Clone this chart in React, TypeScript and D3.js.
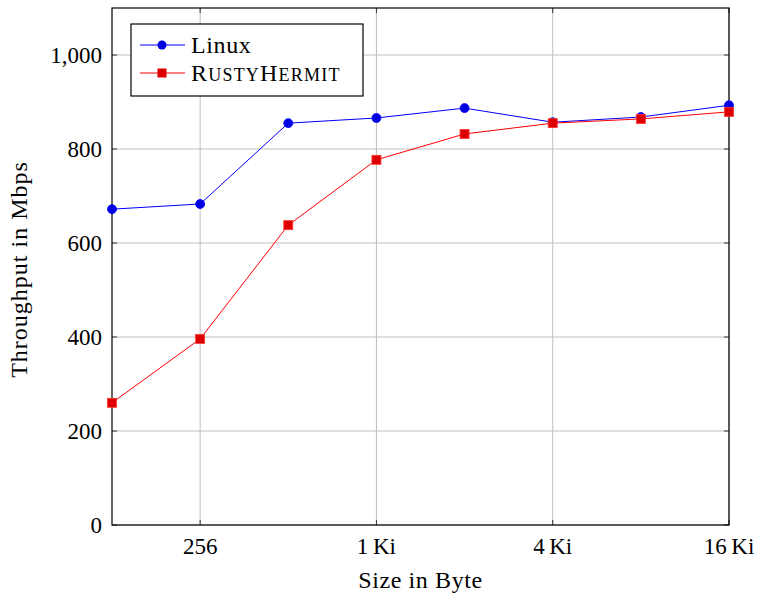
import React, { useEffect, useRef } from 'react';
import * as d3 from 'd3';

const sizes = [128, 256, 512, 1024, 2048, 4096, 8192, 16384];
const linux = [672, 683, 855, 866, 887, 857, 868, 893];
const rusty = [260, 396, 638, 777, 832, 855, 864, 879];
const xTicks = [256, 1024, 4096, 16384];
const xTickLabels = ['256', '1\u2009Ki', '4\u2009Ki', '16\u2009Ki'];
const yTicks = [0, 200, 400, 600, 800, 1000];

const FONT = '"Liberation Serif", "DejaVu Serif", serif';

const App = () => {
  const svgRef = useRef<SVGSVGElement>(null);

  useEffect(() => {
    const svg = d3.select(svgRef.current);
    svg.selectAll('*').remove();

    const width = 761;
    const height = 593;
    const margin = { top: 8, right: 32, bottom: 68, left: 112 };

    svg.append('rect').attr('width', width).attr('height', height).attr('fill', 'white');

    const x = d3.scaleLog().base(2)
      .domain([128, 16384])
      .range([margin.left, width - margin.right]);
    const y = d3.scaleLinear()
      .domain([0, 1100])
      .range([height - margin.bottom, margin.top]);

    const x0 = margin.left, x1 = width - margin.right;
    const y0 = height - margin.bottom, y1 = margin.top;

    // grid
    const grid = svg.append('g').attr('stroke', '#bfbfbf').attr('stroke-width', 1);
    xTicks.forEach(t => {
      grid.append('line').attr('x1', x(t)).attr('x2', x(t)).attr('y1', y0).attr('y2', y1);
    });
    yTicks.forEach(t => {
      grid.append('line').attr('x1', x0).attr('x2', x1).attr('y1', y(t)).attr('y2', y(t));
    });

    // tick marks (inward, both sides)
    const ticks = svg.append('g').attr('stroke', '#333').attr('stroke-width', 1);
    xTicks.forEach(t => {
      ticks.append('line').attr('x1', x(t)).attr('x2', x(t)).attr('y1', y0).attr('y2', y0 - 5);
      ticks.append('line').attr('x1', x(t)).attr('x2', x(t)).attr('y1', y1).attr('y2', y1 + 5);
    });
    yTicks.forEach(t => {
      ticks.append('line').attr('x1', x0).attr('x2', x0 + 5).attr('y1', y(t)).attr('y2', y(t));
      ticks.append('line').attr('x1', x1).attr('x2', x1 - 5).attr('y1', y(t)).attr('y2', y(t));
    });

    // frame
    svg.append('rect')
      .attr('x', x0).attr('y', y1)
      .attr('width', x1 - x0).attr('height', y0 - y1)
      .attr('fill', 'none').attr('stroke', 'black').attr('stroke-width', 1.2);

    // tick labels
    xTicks.forEach((t, i) => {
      svg.append('text')
        .attr('x', x(t)).attr('y', y0 + 29)
        .attr('text-anchor', 'middle')
        .style('font-family', FONT).style('font-size', '23px')
        .text(xTickLabels[i]);
    });
    yTicks.forEach(t => {
      svg.append('text')
        .attr('x', x0 - 10).attr('y', y(t))
        .attr('dy', '0.35em')
        .attr('text-anchor', 'end')
        .style('font-family', FONT).style('font-size', '23px')
        .text(d3.format(',')(t));
    });

    // axis labels
    svg.append('text')
      .attr('x', (x0 + x1) / 2).attr('y', 588)
      .attr('text-anchor', 'middle')
      .style('font-family', FONT).style('font-size', '24px')
      .style('letter-spacing', '0.6px')
      .text('Size in Byte');
    svg.append('text')
      .attr('transform', `translate(27,${(y0 + y1) / 2 + 3}) rotate(-90)`)
      .attr('text-anchor', 'middle')
      .style('font-family', FONT).style('font-size', '24px')
      .style('letter-spacing', '1px')
      .text('Throughput in Mbps');

    const line = d3.line<number>()
      .x((_, i) => x(sizes[i]))
      .y(d => y(d));

    // Linux
    svg.append('path').datum(linux)
      .attr('d', line).attr('fill', 'none').attr('stroke', '#0000ff').attr('stroke-width', 1);
    svg.selectAll('circle.linux').data(linux).enter().append('circle')
      .attr('class', 'linux')
      .attr('cx', (_, i) => x(sizes[i])).attr('cy', d => y(d))
      .attr('r', 4.5).attr('fill', '#0000e0').attr('stroke', '#0000ff').attr('stroke-width', 0.8);

    // RustyHermit
    svg.append('path').datum(rusty)
      .attr('d', line).attr('fill', 'none').attr('stroke', '#ff0000').attr('stroke-width', 1);
    svg.selectAll('rect.rusty').data(rusty).enter().append('rect')
      .attr('class', 'rusty')
      .attr('x', (_, i) => x(sizes[i]) - 4.5).attr('y', d => y(d) - 4.5)
      .attr('width', 9).attr('height', 9)
      .attr('fill', '#dd0000').attr('stroke', '#ff3333').attr('stroke-width', 0.8);

    // legend
    const lg = svg.append('g');
    lg.append('rect')
      .attr('x', 131).attr('y', 24).attr('width', 232).attr('height', 72)
      .attr('fill', 'white').attr('stroke', 'black').attr('stroke-width', 1.2);
    const rowY = [45, 73];
    lg.append('line').attr('x1', 140).attr('x2', 185).attr('y1', rowY[0]).attr('y2', rowY[0])
      .attr('stroke', '#0000ff');
    lg.append('circle').attr('cx', 162).attr('cy', rowY[0]).attr('r', 4.5).attr('fill', '#0000e0');
    lg.append('line').attr('x1', 140).attr('x2', 185).attr('y1', rowY[1]).attr('y2', rowY[1])
      .attr('stroke', '#ff0000');
    lg.append('rect').attr('x', 157.5).attr('y', rowY[1] - 4.5).attr('width', 9).attr('height', 9)
      .attr('fill', '#dd0000');
    lg.append('text')
      .attr('x', 191).attr('y', rowY[0]).attr('dy', '0.35em')
      .style('font-family', FONT).style('font-size', '24px')
      .style('letter-spacing', '0.6px')
      .text('Linux');
    const rt = lg.append('text')
      .attr('x', 191).attr('y', rowY[1]).attr('dy', '0.35em')
      .style('font-family', FONT).style('font-size', '24px')
      .style('letter-spacing', '1.2px');
    rt.append('tspan').text('R');
    rt.append('tspan').style('font-size', '18px').text('USTY');
    rt.append('tspan').text('H');
    rt.append('tspan').style('font-size', '18px').text('ERMIT');
  }, []);

  return <svg ref={svgRef} width={761} height={593} style={{ position: 'absolute', left: 0, top: 0 }}></svg>;
};

export default App;
